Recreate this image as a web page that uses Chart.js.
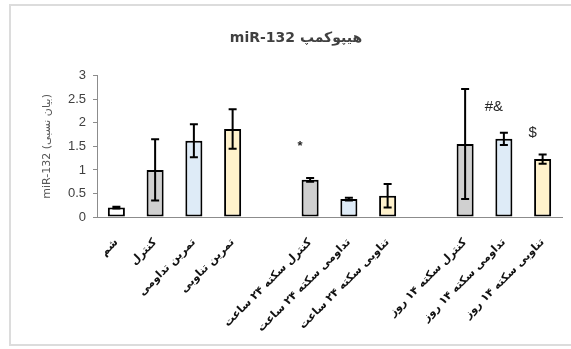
<!DOCTYPE html>
<html>
<head>
<meta charset="utf-8">
<script src="https://cdn.jsdelivr.net/npm/chart.js@4/dist/chart.umd.min.js"></script>
<style>
  html, body { margin: 0; padding: 0; background: #fff; }
  #wrap { position: relative; width: 571px; height: 349px; overflow: hidden; }
  #frame { position: absolute; left: 9px; top: 4px; width: 620px; height: 342px; border: 2px solid #dcdcdc; box-sizing: border-box; }
  #c { position: absolute; left: 0; top: 0; }
</style>
</head>
<body>
<div id="wrap">
  <div id="frame"></div>
  <canvas id="c" width="571" height="349"></canvas>
</div>
<script>
// Groups of treatments; empty entries keep gaps between the three groups
const categories = [
  'شم', 'کنترل', 'تمرین تداومی', 'تمرین تناوبی', '',
  'کنترل سکته ۲۴ ساعت', 'تداومی سکته ۲۴ ساعت', 'تناوبی سکته ۲۴ ساعت', '',
  'کنترل سکته ۱۴ روز', 'تداومی سکته ۱۴ روز', 'تناوبی سکته ۱۴ روز'
];
// Relative miR-132 expression and its error (±)
const expression = [0.20, 1.00, 1.62, 1.87, null, 0.79, 0.38, 0.45, null, 1.55, 1.66, 1.23];
const errors     = [0.02, 0.65, 0.35, 0.42, null, 0.04, 0.03, 0.25, null, 1.17, 0.13, 0.10];
const barColors  = ['#ffffff', '#d0d0d0', '#deebf7', '#fff2cc', '#ffffff',
                    '#d0d0d0', '#deebf7', '#fff2cc', '#ffffff',
                    '#d0d0d0', '#deebf7', '#fff2cc'];
const yTicks = [0, 0.5, 1, 1.5, 2, 2.5, 3];

// Significance marks: symbol, bar index, height on the value axis
const markText  = ['*', '#&', '$'];
const markSlot  = [5, 10, 11];
const markLevel = [1.49, 2.34, 1.79];

const errorBars = {
  id: 'errorBars',
  afterDatasetsDraw(chart) {
    const { ctx, scales: { y } } = chart;
    const meta = chart.getDatasetMeta(0);
    ctx.save();
    ctx.strokeStyle = '#000';
    ctx.lineWidth = 2;
    expression.forEach((v, i) => {
      if (v === null || errors[i] === null) return;
      const cx = meta.data[i].x;
      const top = y.getPixelForValue(v + errors[i]);
      const bot = y.getPixelForValue(v - errors[i]);
      ctx.beginPath();
      ctx.moveTo(cx, top); ctx.lineTo(cx, bot);
      ctx.moveTo(cx - 4, top); ctx.lineTo(cx + 4, top);
      ctx.moveTo(cx - 4, bot); ctx.lineTo(cx + 4, bot);
      ctx.stroke();
    });
    ctx.restore();
  }
};

const marks = {
  id: 'marks',
  afterDatasetsDraw(chart) {
    const { ctx, scales: { x, y } } = chart;
    ctx.save();
    ctx.fillStyle = '#262626';
    ctx.textAlign = 'center';
    ctx.textBaseline = 'middle';
    markText.forEach((t, k) => {
      ctx.font = t === '*' ? 'bold 13px "Liberation Sans"' : '15px "Liberation Sans"';
      const px = x.getPixelForValue(markSlot[k]) - 10;
      const py = y.getPixelForValue(markLevel[k]);
      ctx.fillText(t, px, py);
    });
    ctx.restore();
  }
};

new Chart(document.getElementById('c'), {
  type: 'bar',
  data: {
    labels: categories,
    datasets: [{
      data: expression,
      backgroundColor: barColors,
      borderColor: '#000',
      borderWidth: 2,
      borderSkipped: false,
      barPercentage: 0.44,
      categoryPercentage: 1
    }]
  },
  options: {
    responsive: false,
    animation: false,
    events: [],
    layout: { padding: { left: 30, right: 9, top: 0, bottom: 0 } },
    plugins: {
      legend: { display: false },
      tooltip: { enabled: false },
      title: {
        display: true,
        text: 'miR-132 هیپوکمپ',
        color: '#404040',
        font: { family: 'DejaVu Sans', size: 14, weight: 'bold' },
        padding: { top: 30, bottom: 29 }
      }
    },
    scales: {
      x: {
        grid: { display: false },
        border: { display: true, color: '#8c8c8c', width: 1 },
        ticks: {
          autoSkip: false,
          minRotation: 45,
          maxRotation: 45,
          padding: 11,
          color: '#111',
          font: { family: 'DejaVu Sans', size: 11, weight: 'bold' }
        },
        afterFit(scale) { scale.height = 132; }
      },
      y: {
        min: 0,
        max: 3,
        afterBuildTicks(scale) { scale.ticks = yTicks.map(v => ({ value: v })); },
        grid: { drawOnChartArea: false, drawTicks: true, tickLength: 4, color: '#8c8c8c' },
        border: { display: true, color: '#8c8c8c', width: 1 },
        ticks: {
          padding: 7,
          color: '#404040',
          font: { family: 'Liberation Sans', size: 13 },
          callback: v => String(v)
        },
        title: {
          display: true,
          text: 'miR-132 (بیان نسبی)',
          color: '#595959',
          font: { family: 'DejaVu Sans', size: 11 },
          padding: { top: 11, bottom: 4 }
        },
        afterFit(scale) { scale.width = 67; }
      }
    }
  },
  plugins: [errorBars, marks]
});
</script>
</body>
</html>
